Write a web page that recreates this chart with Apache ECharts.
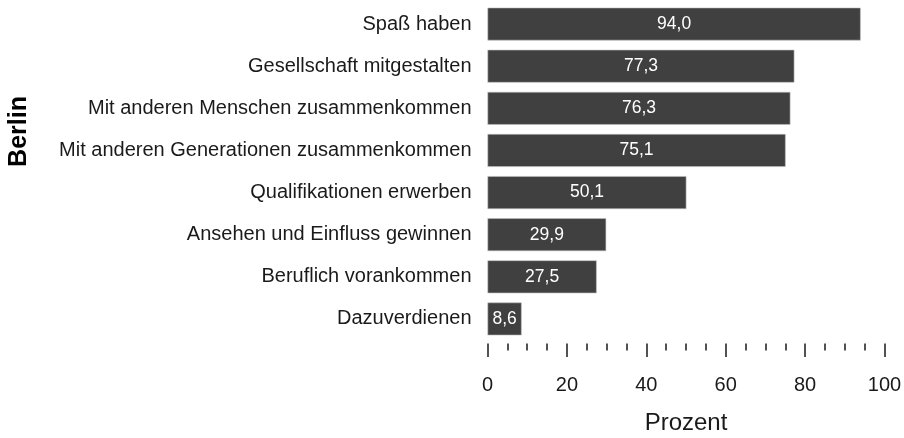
<!DOCTYPE html>
<html>
<head>
<meta charset="utf-8">
<script src="https://cdn.jsdelivr.net/npm/echarts@6/dist/echarts.min.js"></script>
<style>
  html, body { margin: 0; padding: 0; background: #fff; }
  #chart { width: 904px; height: 438px; }
</style>
</head>
<body>
<div id="chart"></div>
<script>
// categories top to bottom
const categories = [
  'Spaß haben',
  'Gesellschaft mitgestalten',
  'Mit anderen Menschen zusammenkommen',
  'Mit anderen Generationen zusammenkommen',
  'Qualifikationen erwerben',
  'Ansehen und Einfluss gewinnen',
  'Beruflich vorankommen',
  'Dazuverdienen'
]
const values = [94.0, 77.3, 76.3, 75.1, 50.1, 29.9, 27.5, 8.6]
const xTicks = [0, 20, 40, 60, 80, 100]

const font = 'Liberation Sans, Arial, sans-serif'
const chart = echarts.init(document.getElementById('chart'))

const option = {
  animation: false,
  grid: {
    left: 487.5, right: 19.5, top: 3, bottom: 98,
    containLabel: false,
    outerBoundsMode: 'none'
  },
  xAxis: {
    type: 'value',
    min: xTicks[0],
    max: xTicks[xTicks.length - 1],
    interval: 20,
    offset: 3.5,
    axisLine: { show: false },
    axisTick: { show: true, length: 13.5, lineStyle: { color: '#1a1a1a', width: 1.5 } },
    minorTick: { show: true, splitNumber: 4, length: 7, lineStyle: { color: '#1a1a1a', width: 1.5 } },
    splitLine: { show: false },
    axisLabel: { margin: 32, fontSize: 20, color: '#1a1a1a', fontFamily: font },
    name: 'Prozent',
    nameLocation: 'middle',
    nameGap: 68,
    nameTextStyle: { fontSize: 24, color: '#1a1a1a', fontFamily: font }
  },
  yAxis: {
    type: 'category',
    data: categories,
    inverse: true,
    axisLine: { show: false },
    axisTick: { show: false },
    axisLabel: { margin: 16, fontSize: 20, color: '#1a1a1a', fontFamily: font }
  },
  graphic: [{
    type: 'text',
    x: 7,
    y: 131.5,
    rotation: Math.PI / 2,
    style: {
      text: 'Berlin',
      font: 'bold 25px ' + font,
      fill: '#000',
      align: 'center',
      verticalAlign: 'top'
    }
  }],
  series: [{
    type: 'bar',
    data: values,
    barCategoryGap: '22%',
    itemStyle: { color: '#404040', borderColor: '#bdbdbd', borderWidth: 0.6 },
    label: {
      show: true,
      position: 'inside',
      color: '#fff',
      fontSize: 17.5,
      fontFamily: font,
      formatter: p => p.value.toFixed(1).replace('.', ',')
    }
  }]
}

chart.setOption(option)
</script>
</body>
</html>
